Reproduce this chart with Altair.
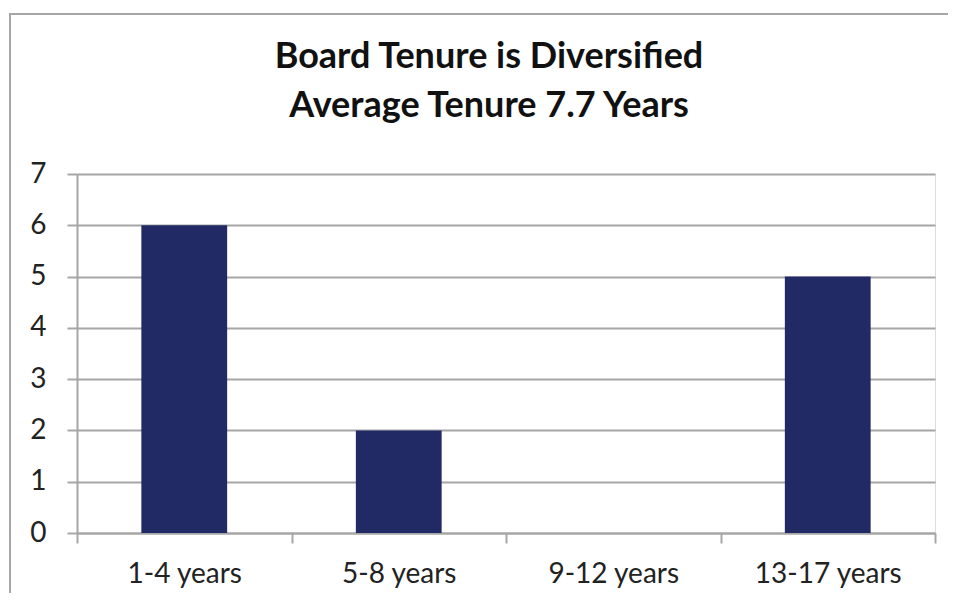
import altair as alt
import pandas as pd

categories = ["1-4 years", "5-8 years", "9-12 years", "13-17 years"]
counts = [6, 2, 0, 5]
title_lines = ["Board Tenure is Diversified", "Average Tenure 7.7 Years"]

df = pd.DataFrame({"tenure": categories, "count": counts})
frame_df = pd.DataFrame({"k": [0]})

FONT = "Lato"
GRID = "#a6a6a6"
W, H = 858, 359

bars = alt.Chart(df).mark_bar(color="#222a66", width=alt.RelativeBandSize(0.4)).encode(
    x=alt.X("tenure:N", sort=categories, title=None,
            scale=alt.Scale(paddingInner=0, paddingOuter=0),
            axis=alt.Axis(labelAngle=0, labelFontSize=28, labelFont=FONT,
                          labelColor="#222222", labelPadding=17,
                          domainColor=GRID, domainWidth=2,
                          tickColor=GRID, tickWidth=2, tickSize=10,
                          tickBand="extent", grid=False)),
    y=alt.Y("count:Q", title=None,
            scale=alt.Scale(domain=[0, 7]),
            axis=alt.Axis(values=[0, 1, 2, 3, 4, 5, 6, 7], labelFontSize=28,
                          labelFont=FONT, labelColor="#222222", labelPadding=21,
                          domainColor=GRID, domainWidth=2,
                          tickColor=GRID, tickWidth=2, tickSize=10,
                          gridColor=GRID, gridWidth=2, gridOpacity=1)),
)

frame = alt.Chart(frame_df).mark_rect(
    fill=None, stroke=GRID, strokeWidth=2, clip=False
).encode(
    x=alt.value(-67), x2=alt.value(W + 120),
    y=alt.value(-160), y2=alt.value(H + 200),
)

def title_line(txt, ypos):
    return alt.Chart(pd.DataFrame({"t": [txt]})).mark_text(
        font=FONT, fontSize=36, fontWeight="bold", color="#111111",
        align="center", baseline="alphabetic", clip=False
    ).encode(x=alt.value(412), y=alt.value(ypos), text="t:N")

chart = alt.layer(
    frame, bars, title_line(title_lines[0], -106), title_line(title_lines[1], -57)
).properties(
    width=W, height=H,
    autosize=alt.AutoSizeParams(type="none"),
    padding={"left": 69, "top": 166, "right": 13, "bottom": 60},
).configure_view(stroke=None).configure(background="white")

chart.save("out.html", embed_options={"renderer": "svg", "actions": False})
